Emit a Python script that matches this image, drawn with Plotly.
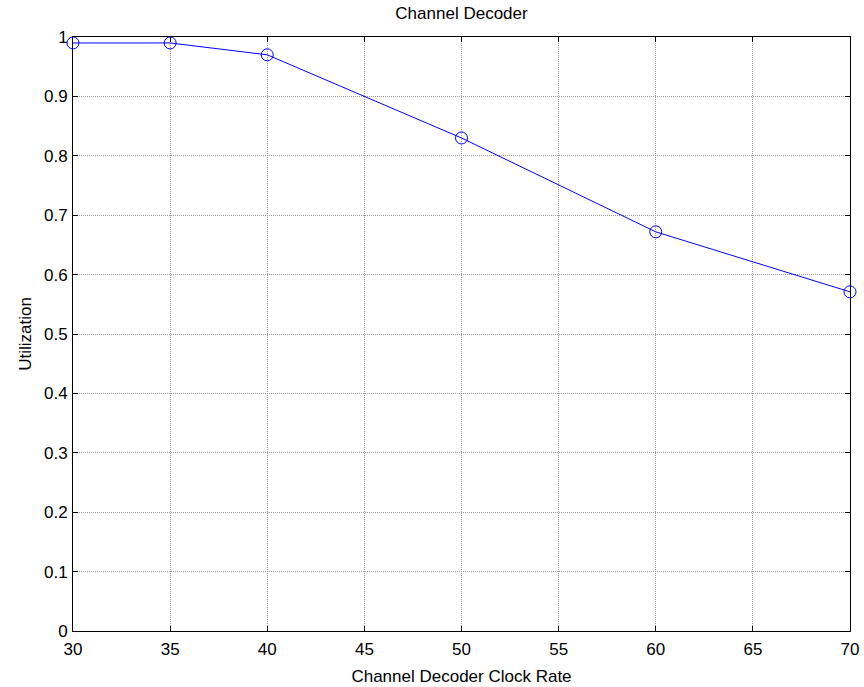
import plotly.graph_objects as go

clock_rate = [30, 35, 40, 50, 60, 70]
utilization = [0.99, 0.99, 0.97, 0.83, 0.672, 0.571]

fig = go.Figure()
fig.add_trace(go.Scatter(
    x=clock_rate, y=utilization, mode="lines+markers",
    line=dict(color="#0000ff", width=1),
    marker=dict(symbol="circle-open", size=12, color="#0000ff", line=dict(width=1)),
    showlegend=False, cliponaxis=False,
))

fam = "Liberation Sans, Arial, sans-serif"
tick_font = dict(family=fam, size=17, color="black")
axis_common = dict(
    showline=True, linecolor="black", linewidth=1, mirror="ticks",
    ticks="inside", ticklen=5, tickcolor="black",
    showgrid=True, gridcolor="#9a9a9a", griddash="1px,1px", gridwidth=1,
    zeroline=False, tickfont=tick_font, automargin=False,
)
fig.update_layout(
    width=864, height=687,
    margin=dict(l=73, r=14, t=37, b=56),
    paper_bgcolor="white", plot_bgcolor="white",
    font=dict(family=fam, size=17, color="black"),
    title=dict(text="Channel Decoder", x=(73 + 850) / 2 / 864, xanchor="center",
               y=1 - 13 / 687, yanchor="middle", font=dict(family=fam, size=17, color="black")),
    xaxis=dict(range=[30, 70], dtick=5, ticklabelstandoff=3,
               title=dict(text="Channel Decoder Clock Rate", standoff=11, font=dict(family=fam, size=17, color="black")),
               **axis_common),
    yaxis=dict(range=[0, 1], dtick=0.1, tickformat="~g", ticklabelstandoff=1,
               title=dict(text="Utilization", standoff=8, font=dict(family=fam, size=17, color="black")),
               **axis_common),
)
fig.write_html("out.html")
